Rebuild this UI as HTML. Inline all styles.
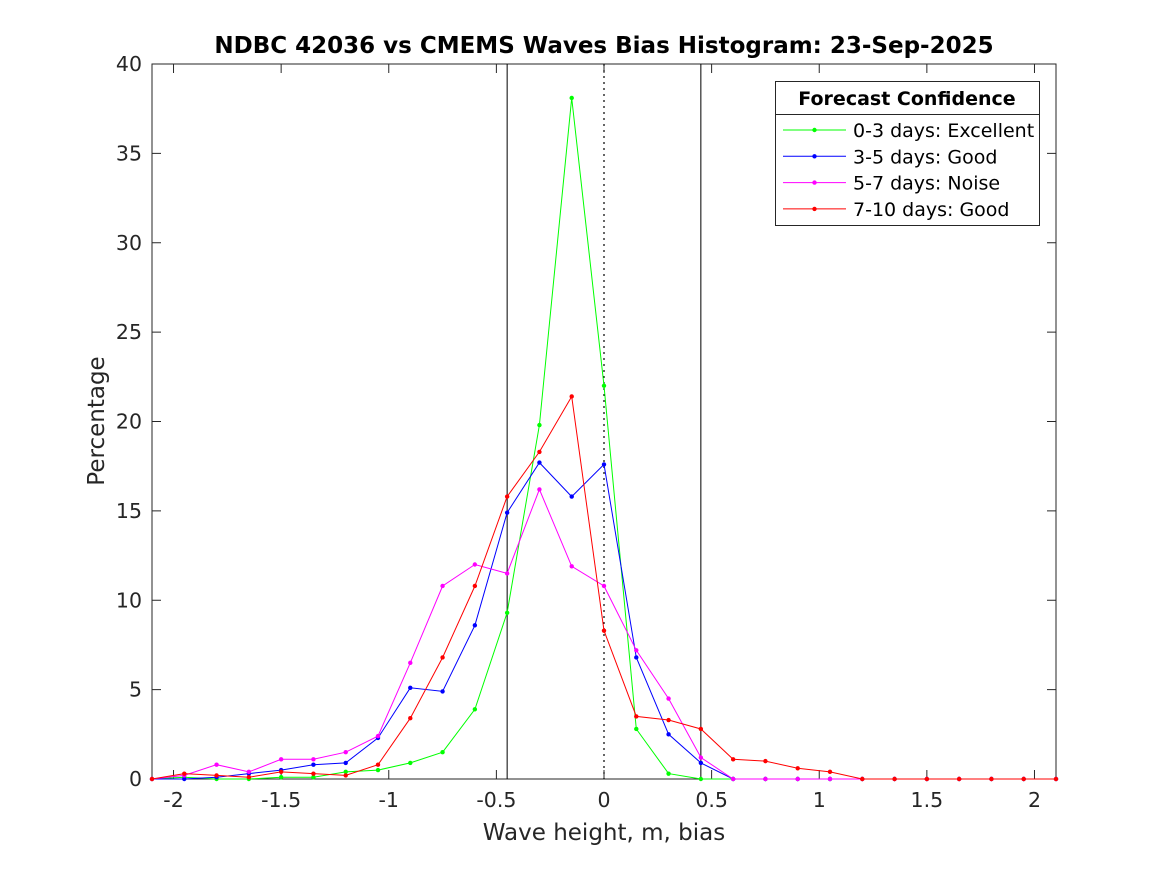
<!DOCTYPE html>
<html><head><meta charset="utf-8"><style>
html,body{margin:0;padding:0;background:#fff;}
svg{display:block;font-family:"DejaVu Sans","Liberation Sans",sans-serif;}
</style></head><body>
<svg id="chart" width="1167" height="875" viewBox="0 0 1167 875" xmlns="http://www.w3.org/2000/svg">
<rect width="1167" height="875" fill="#fff"/>
<text x="604" y="53" text-anchor="middle" font-size="23" font-weight="bold" fill="#000">NDBC 42036 vs CMEMS Waves Bias Histogram: 23-Sep-2025</text>
<text x="604" y="840" text-anchor="middle" font-size="23" fill="#262626">Wave height, m, bias</text>
<text transform="translate(104,421) rotate(-90)" text-anchor="middle" font-size="23" fill="#262626">Percentage</text>
<g id="axes"></g>
<g id="series"></g>
<g id="legend"></g>
</svg>
<script>
const xValues = [-2.1,-1.95,-1.8,-1.65,-1.5,-1.35,-1.2,-1.05,-0.9,-0.75,-0.6,-0.45,-0.3,-0.15,0,0.15,0.3,0.45,0.6,0.75,0.9,1.05,1.2,1.35,1.5,1.65,1.8,1.95,2.1];
const greenValues = [0,0.1,0,0,0.1,0.1,0.4,0.5,0.9,1.5,3.9,9.3,19.8,38.1,22.0,2.8,0.3,0,0,0,0,0,0,0,0,0,0,0,0];
const blueValues = [0,0,0.1,0.3,0.5,0.8,0.9,2.3,5.1,4.9,8.6,14.9,17.7,15.8,17.6,6.8,2.5,0.9,0,0,0,0,0,0,0,0,0,0,0];
const magentaValues = [0,0.2,0.8,0.4,1.1,1.1,1.5,2.4,6.5,10.8,12.0,11.5,16.2,11.9,10.8,7.2,4.5,1.2,0,0,0,0,0,0,0,0,0,0,0];
const redValues = [0,0.3,0.2,0.1,0.4,0.3,0.2,0.8,3.4,6.8,10.8,15.8,18.3,21.4,8.3,3.5,3.3,2.8,1.1,1.0,0.6,0.4,0,0,0,0,0,0,0];
const seriesNames = ["0-3 days: Excellent","3-5 days: Good","5-7 days: Noise","7-10 days: Good"];
const xTicks = [-2,-1.5,-1,-0.5,0,0.5,1,1.5,2];
const xTickLabels = ["-2","-1.5","-1","-0.5","0","0.5","1","1.5","2"];
const yTicks = [0,5,10,15,20,25,30,35,40];
const refLines = [-0.45,0.45];

const NS="http://www.w3.org/2000/svg";
const L=152,R=1056,T=64,B=779;
const xMin=-2.1,xMax=2.1,yMin=0,yMax=40;
function sx(v){return L+(v-xMin)/(xMax-xMin)*(R-L);}
function sy(v){return B-(v-yMin)/(yMax-yMin)*(B-T);}
function mk(tag,attrs,parent){const e=document.createElementNS(NS,tag);for(const k in attrs)e.setAttribute(k,attrs[k]);parent.appendChild(e);return e;}

const ax=document.getElementById('axes');
const box=mk('rect',{x:L,y:T,width:R-L,height:B-T,fill:'none',stroke:'#262626','stroke-width':1},ax);


xTicks.forEach((t,i)=>{
  const x=sx(t);
  const a=mk('line',{x1:x,x2:x,y1:B,y2:B-9,stroke:'#262626'},ax);
  
  
  const b=mk('line',{x1:x,x2:x,y1:T,y2:T+9,stroke:'#262626'},ax);
  
  
  const tx=mk('text',{x:x,y:B+28,'text-anchor':'middle','font-size':20.5,fill:'#262626'},ax);
  tx.textContent=xTickLabels[i];
  
  
});
yTicks.forEach(t=>{
  const y=sy(t);
  const a=mk('line',{x1:L,x2:L+9,y1:y,y2:y,stroke:'#262626'},ax);
  
  
  const b=mk('line',{x1:R,x2:R-9,y1:y,y2:y,stroke:'#262626'},ax);
  
  
  const tx=mk('text',{x:L-10,y:y+7,'text-anchor':'end','font-size':20.5,fill:'#262626'},ax);
  tx.textContent=String(t);
  
  
});
refLines.forEach(v=>{
  const l=mk('line',{x1:sx(v),x2:sx(v),y1:T,y2:B,stroke:'#000','stroke-width':1},ax);
  
  
});
const zl=mk('line',{x1:sx(0),x2:sx(0),y1:T,y2:B,stroke:'#000','stroke-width':1.2,'stroke-dasharray':'2,4'},ax);



const sg=document.getElementById('series');
const all=[[greenValues,'#00ff00','series-0-3-days'],[blueValues,'#0000ff','series-3-5-days'],[magentaValues,'#ff00ff','series-5-7-days'],[redValues,'#ff0000','series-7-10-days']];
all.forEach(([vals,col,name])=>{
  const g=mk('g',{},sg);
  
  
  const pts=vals.map((v,i)=>sx(xValues[i]).toFixed(1)+','+sy(v).toFixed(1)).join(' ');
  const pl=mk('polyline',{points:pts,fill:'none',stroke:col,'stroke-width':1},g);
  
  
  vals.forEach((v,i)=>{
    const c=mk('circle',{cx:sx(xValues[i]),cy:sy(v),r:2.2,fill:col},g);
    
    
  });
});

const lg=document.getElementById('legend');
const lb=mk('rect',{x:775.5,y:81.5,width:264,height:144,fill:'#fff',stroke:'#262626'},lg);


const sep=mk('line',{x1:775.5,x2:1039.5,y1:114.5,y2:114.5,stroke:'#262626'},lg);


const lt=mk('text',{x:907,y:105,'text-anchor':'middle','font-size':19,'font-weight':'bold',fill:'#000'},lg);
lt.textContent='Forecast Confidence';


const cols=['#00ff00','#0000ff','#ff00ff','#ff0000'];
seriesNames.forEach((n,i)=>{
  const y=130+i*26.3;
  const g=mk('g',{},lg);
  
  
  mk('line',{x1:783,x2:846,y1:y,y2:y,stroke:cols[i]},g);
  mk('circle',{cx:814.5,cy:y,r:2.2,fill:cols[i]},g);
  const t=mk('text',{x:853,y:y+7,'font-size':19,fill:'#000'},g);
  t.textContent=n;
});
</script>
</body></html>
